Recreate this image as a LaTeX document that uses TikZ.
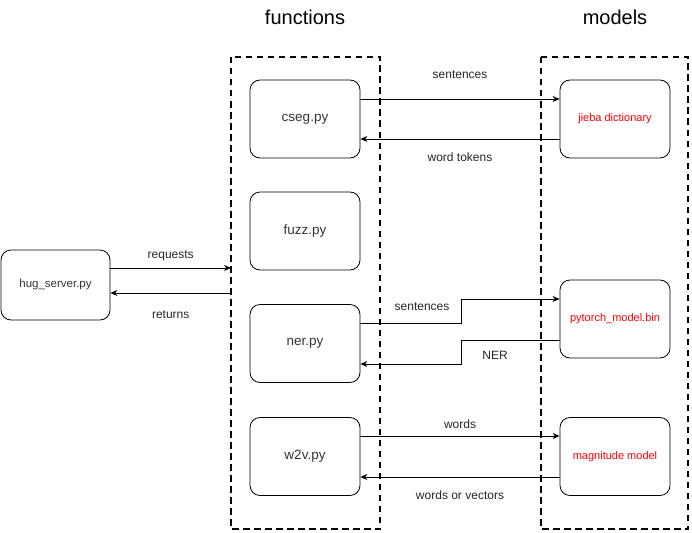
\documentclass[tikz,border=0pt]{standalone}
\usepackage{fontspec}
\setmainfont{Liberation Sans}
\usetikzlibrary{arrows.meta}
\begin{document}
\begin{tikzpicture}[x=1pt,y=-1pt,
  rbox/.style={draw,rounded corners=10pt,line width=0.8pt,minimum width=110pt,minimum height=78pt,font=\fontsize{13.5}{15}\selectfont,text=black!80,inner sep=0pt},
  mbox/.style={rbox,text={rgb,255:red,255;green,0;blue,0},font=\fontsize{11}{13}\selectfont},
  grp/.style={draw,line width=1.6pt,dash pattern=on 6.5pt off 4.5pt},
  conn/.style={draw,line width=0.8pt,-{Stealth[length=7pt,width=6pt]}},
  lbl/.style={font=\fontsize{12}{14}\selectfont,text=black!85},
  ttl/.style={font=\fontsize{20}{24}\selectfont}]
\useasboundingbox (0,0) rectangle (692,532);
% groups
\draw[grp] (231,57) rectangle (380,529);
\draw[grp] (541,57) rectangle (688,529);
\node[ttl] (tf) at (305,17) {functions};
\node[ttl] (tm) at (615,17) {models};
% nodes
\node[rbox,minimum width=109pt,minimum height=70pt] (hug) at (55.5,285) {\fontsize{11.5}{13}\selectfont hug\_server.py};
\node[rbox] (cseg) at (305,119) {cseg.py};
\node[rbox] (fuzz) at (305,231) {fuzz.py};
\node[rbox] (ner) at (305,343.5) {ner.py};
\node[rbox] (w2v) at (305,456.5) {w2v.py};
\node[mbox] (jieba) at (615,119) {jieba dictionary};
\node[mbox] (pyt) at (615,319) {pytorch\_model.bin};
\node[mbox] (mag) at (615,456.5) {magnitude model};
% group edge coordinates
\coordinate (fin) at (231,268);
\coordinate (fout) at (231,293);
% connectors
\draw[conn] (hug.east |- fin) -- (fin) node[lbl,midway,above=3pt] {requests};
\draw[conn] (fout) -- (hug.east |- fout) node[lbl,midway,below=14pt] {returns};
\draw[conn] (cseg.east |- 0,99) -- (jieba.west |- 0,99) node[lbl,midway,above=17pt] {sentences};
\draw[conn] (jieba.west |- 0,139) -- (cseg.east |- 0,139) node[lbl,midway,below=10pt] {word tokens};
\draw[conn] (ner.east |- 0,323) -- (461,323) -- (461,299) -- (pyt.west |- 0,299);
\node[lbl] (lsent) at (422,307) {sentences};
\draw[conn] (pyt.west |- 0,340) -- (461,340) -- (461,364) -- (ner.east |- 0,364);
\node[lbl] (lner) at (495,355) {NER};
\draw[conn] (w2v.east |- 0,436) -- (mag.west |- 0,436) node[lbl,midway,above=4pt] {words};
\draw[conn] (mag.west |- 0,477) -- (w2v.east |- 0,477) node[lbl,midway,below=10pt] {words or vectors};
\end{tikzpicture}
\end{document}
